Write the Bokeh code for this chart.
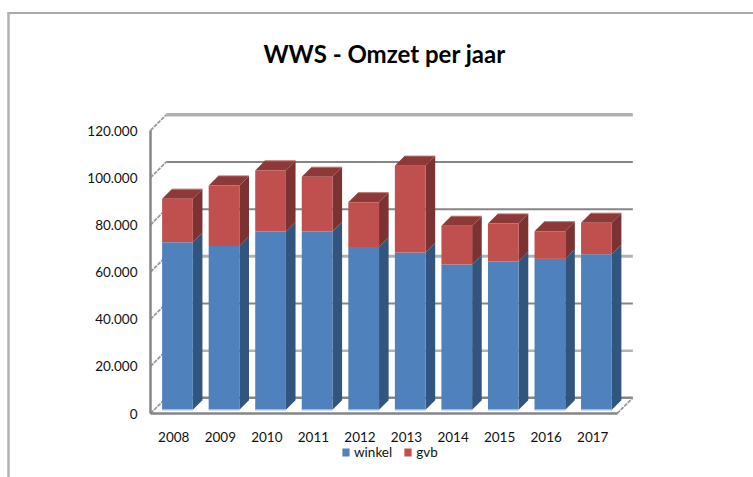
from bokeh.embed import file_html
from bokeh.resources import INLINE
from bokeh.plotting import figure
from bokeh.models import (Range1d, LinearAxis, FixedTicker, Legend, LegendItem, Label,
                          ColumnDataSource)

years = [2008, 2009, 2010, 2011, 2012, 2013, 2014, 2015, 2016, 2017]
winkel = [71000, 69500, 75600, 75600, 69000, 66700, 61600, 62900, 64000, 66000]
gvb = [18500, 25600, 25900, 23200, 19000, 36800, 16400, 16100, 11700, 13300]
y_ticks = [0, 20000, 40000, 60000, 80000, 100000, 120000]
y_labels = ["0", "20.000", "40.000", "60.000", "80.000", "100.000", "120.000"]
title_text = "WWS - Omzet per jaar"

FONT = "Lato"
W, H = 753, 477
PX_X = 46.55               # pixels per category
PX_Y = 283 / 120000        # pixels per unit of value
X0_PX, Y0_PX = 150, 413    # where (-0.5, 0) lands inside the figure
X_END = 9.525              # right end of the category axis


def dx(px):
    return px / PX_X


def dy(px):
    return px / PX_Y


BOX = 15.7                 # depth of the 3D box, px
BAR_FRONT = 3.7            # bar's front face depth, px
BAR_BACK = 13.3            # bar's back face depth, px
HALF = 0.33                # half bar width, categories

p = figure(width=W, height=H, output_backend="svg", toolbar_location=None,
           x_range=Range1d(-0.5 - dx(X0_PX), -0.5 + dx(W - X0_PX)),
           y_range=Range1d(-dy(H - Y0_PX), dy(Y0_PX)),
           x_axis_location=None, y_axis_location=None,
           min_border=0, outline_line_color=None, background_fill_color="white")
p.grid.visible = False

# chart-area border (top and left only, as seen in the picture)
x_l, x_r = p.x_range.start, p.x_range.end
y_b, y_t = p.y_range.start, p.y_range.end
p.segment([x_l + dx(7)], [y_t - dy(12.5)], [x_r], [y_t - dy(12.5)], line_color="#8c8c8c", line_width=1.5)
p.segment([x_l + dx(8)], [y_b], [x_l + dx(8)], [y_t - dy(12)], line_color="#b2b2b2", line_width=2.5)

# back wall lines
wall_styles = {0: ("#868686", 2.5), 20000: ("#b2b2b2", 2.5), 40000: ("#868686", 2),
               60000: ("#b2b2b2", 3), 80000: ("#868686", 2), 100000: ("#868686", 2),
               120000: ("#b2b2b2", 3.5)}
for v in y_ticks:
    col, lw = wall_styles[v]
    p.segment([-0.5 + dx(BOX)], [v + dy(BOX)], [X_END + dx(BOX)], [v + dy(BOX)],
              line_color=col, line_width=lw)
    p.segment([-0.5], [v], [-0.5 + dx(BOX)], [v + dy(BOX)],
              line_color="#9a9a9a", line_width=1.8, line_dash="4 1")
p.segment([X_END], [0], [X_END + dx(BOX)], [dy(BOX)], line_color="#9a9a9a", line_width=1.8, line_dash="4 1")

# 3D stacked bars
fx, bx = dx(BAR_FRONT), dx(BAR_BACK)
fy, by = dy(BAR_FRONT), dy(BAR_BACK)
idx = list(range(len(years)))
tops = [a + b for a, b in zip(winkel, gvb)]


def side(lows, highs):
    xs, ys = [], []
    for i, lo, hi in zip(idx, lows, highs):
        r = i + HALF
        xs.append([r + fx, r + bx, r + bx, r + fx])
        ys.append([lo + fy, lo + by, hi + by, hi + fy])
    return dict(xs=xs, ys=ys)


p.patches("xs", "ys", source=ColumnDataSource(side([0] * 10, winkel)), fill_color="#31557d", line_color=None)
p.patches("xs", "ys", source=ColumnDataSource(side(winkel, tops)), fill_color="#7b3231", line_color=None)

top_xs = [[i - HALF + fx, i - HALF + bx, i + HALF + bx, i + HALF + fx] for i in idx]
top_ys = [[t + fy, t + by, t + by, t + fy] for t in tops]
p.patches(top_xs, top_ys, fill_color="#8c3937", line_color=None)
p.segment([i - HALF + bx for i in idx], [t + by for t in tops],
          [i + HALF + bx for i in idx], [t + by for t in tops],
          line_color="#b9706e", line_width=1)

left = [i - HALF + fx for i in idx]
right = [i + HALF + fx for i in idx]
q_w = p.quad(left=left, right=right, bottom=[fy] * 10, top=[w + fy for w in winkel],
             fill_color="#4f81bd", line_color=None)
q_g = p.quad(left=left, right=right, bottom=[w + fy for w in winkel], top=[t + fy for t in tops],
             fill_color="#c0504d", line_color=None)
p.segment(left, [fy] * 10, right, [fy] * 10, line_color="#a7bfde", line_width=1.5)

# axes
yax = LinearAxis(fixed_location=-0.5, bounds=(0, 120000),
                 ticker=FixedTicker(ticks=y_ticks),
                 major_label_overrides={t: s for t, s in zip(y_ticks, y_labels)},
                 major_tick_line_color=None, minor_tick_line_color=None,
                 major_tick_out=0, major_tick_in=0,
                 axis_line_color="#868686", axis_line_width=2.5,
                 major_label_standoff=13, major_label_text_font=FONT,
                 major_label_text_font_size="13.5px", major_label_text_color="#111111")
p.add_layout(yax, "left")
xax = LinearAxis(fixed_location=0, bounds=(-0.5, X_END),
                 ticker=FixedTicker(ticks=idx),
                 major_label_overrides={i: str(y) for i, y in zip(idx, years)},
                 major_tick_line_color=None, minor_tick_line_color=None,
                 major_tick_out=0, major_tick_in=0,
                 axis_line_color="#868686", axis_line_width=2.5,
                 major_label_standoff=18, major_label_text_font=FONT,
                 major_label_text_font_size="13.5px", major_label_text_color="#111111")
p.add_layout(xax, "below")

p.add_layout(Label(x=384, y=H - 53, x_units="screen", y_units="screen",
                   text=title_text, text_font=FONT, text_font_style="bold",
                   text_font_size="24px", text_align="center", text_baseline="middle",
                   text_color="#000000"))

legend = Legend(items=[LegendItem(label="winkel", renderers=[q_w]),
                       LegendItem(label="gvb", renderers=[q_g])],
                location=(341, 17), orientation="horizontal", margin=0, padding=0,
                border_line_color=None, background_fill_alpha=0,
                glyph_width=9, glyph_height=10, label_standoff=4, spacing=11,
                label_text_font=FONT, label_text_font_size="13.5px", label_text_color="#111111",
                label_height=10)
p.add_layout(legend)

open("out.html", "w").write(file_html(p, INLINE))
